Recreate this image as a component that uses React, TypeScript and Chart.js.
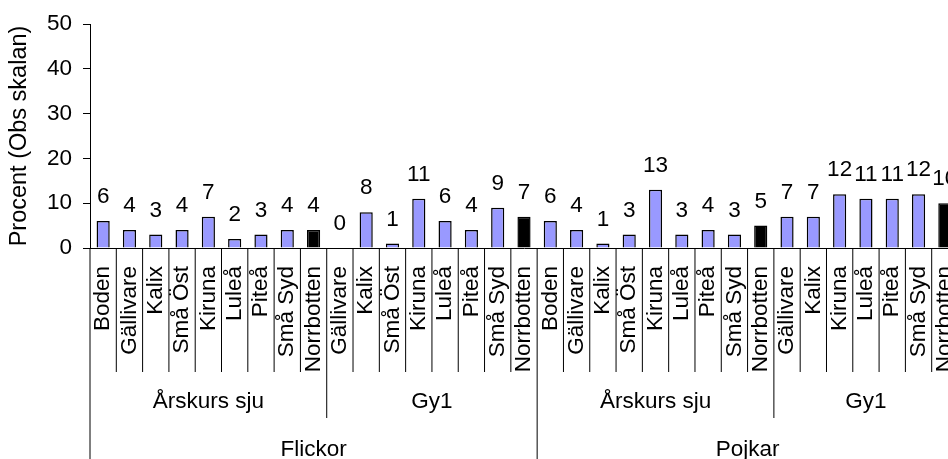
import React, { useEffect, useRef } from 'react';
import { Chart, registerables } from 'chart.js';

Chart.register(...registerables);

// ---- Data ----
const citiesFlickorAk7 = ['Boden', 'Gällivare', 'Kalix', 'Små Öst', 'Kiruna', 'Luleå', 'Piteå', 'Små Syd', 'Norrbotten'];
const citiesFlickorGy1 = ['Gällivare', 'Kalix', 'Små Öst', 'Kiruna', 'Luleå', 'Piteå', 'Små Syd', 'Norrbotten'];
const citiesPojkarAk7 = ['Boden', 'Gällivare', 'Kalix', 'Små Öst', 'Kiruna', 'Luleå', 'Piteå', 'Små Syd', 'Norrbotten'];
const citiesPojkarGy1 = ['Gällivare', 'Kalix', 'Kiruna', 'Luleå', 'Piteå', 'Små Syd', 'Norrbotten'];

const flickorAk7 = [6, 4, 3, 4, 7, 2, 3, 4, 4];
const flickorGy1 = [0, 8, 1, 11, 6, 4, 9, 7];
const pojkarAk7 = [6, 4, 1, 3, 13, 3, 4, 3, 5];
const pojkarGy1 = [7, 7, 12, 11, 11, 12, 10];

const schoolLevels = ['Årskurs sju', 'Gy1'];
const genders = ['Flickor', 'Pojkar'];
const totalLabel = 'Norrbotten';
const yTicks = [0, 10, 20, 30, 40, 50];
const yTitle = 'Procent (Obs skalan)';

// ---- Derived tables ----
const subGroups = [
  { gender: genders[0], level: schoolLevels[0], cities: citiesFlickorAk7, values: flickorAk7 },
  { gender: genders[0], level: schoolLevels[1], cities: citiesFlickorGy1, values: flickorGy1 },
  { gender: genders[1], level: schoolLevels[0], cities: citiesPojkarAk7, values: pojkarAk7 },
  { gender: genders[1], level: schoolLevels[1], cities: citiesPojkarGy1, values: pojkarGy1 },
];
const labels: string[] = subGroups.flatMap((g) => g.cities);
const values: number[] = subGroups.flatMap((g) => g.values);

const level2: { label: string; start: number; count: number }[] = [];
const level3: { label: string; start: number; count: number }[] = [];
{
  let idx = 0;
  subGroups.forEach((g) => {
    level2.push({ label: g.level, start: idx, count: g.cities.length });
    const last = level3[level3.length - 1];
    if (last && last.label === g.gender) last.count += g.cities.length;
    else level3.push({ label: g.gender, start: idx, count: g.cities.length });
    idx += g.cities.length;
  });
}

const FONT = '"Liberation Sans", Arial, sans-serif';
const FS = 22.5;

const valueLabelPlugin = {
  id: 'valueLabels',
  afterDatasetsDraw(chart: any) {
    const ctx = chart.ctx;
    const meta = chart.getDatasetMeta(0);
    ctx.save();
    ctx.font = `${FS}px ${FONT}`;
    ctx.fillStyle = '#000';
    ctx.textAlign = 'center';
    ctx.textBaseline = 'alphabetic';
    meta.data.forEach((el: any, i: number) => {
      ctx.fillText(String(values[i]), el.x, el.y - 18);
    });
    ctx.restore();
  },
};

const hierarchyPlugin = {
  id: 'hierarchy',
  afterDraw(chart: any) {
    const ctx = chart.ctx;
    const xs = chart.scales.x;
    const area = chart.chartArea;
    const base = area.bottom;
    const bottom = chart.height;
    const px = (k: number) => xs.getPixelForValue(k - 0.5);
    const l2Bounds = new Set<number>();
    const l3Bounds = new Set<number>();
    level2.forEach((g) => { l2Bounds.add(g.start); l2Bounds.add(g.start + g.count); });
    level3.forEach((g) => { l3Bounds.add(g.start); l3Bounds.add(g.start + g.count); });

    ctx.save();
    ctx.strokeStyle = '#000';
    ctx.lineWidth = 1;
    for (let k = 0; k <= labels.length; k++) {
      let end = base + 124;
      if (l3Bounds.has(k)) end = bottom;
      else if (l2Bounds.has(k)) end = base + 170;
      const x = px(k);
      ctx.beginPath();
      ctx.moveTo(x, base);
      ctx.lineTo(x, end);
      ctx.stroke();
    }
    ctx.font = `${FS}px ${FONT}`;
    ctx.fillStyle = '#000';
    ctx.textAlign = 'center';
    ctx.textBaseline = 'middle';
    level2.forEach((g) => {
      const cx = (px(g.start) + px(g.start + g.count)) / 2;
      ctx.fillText(g.label, cx, base + 154);
    });
    level3.forEach((g) => {
      const cx = (px(g.start) + px(g.start + g.count)) / 2;
      ctx.fillText(g.label, cx, base + 202);
    });
    ctx.restore();
  },
};

export default function App() {
  const ref = useRef<HTMLCanvasElement>(null);

  useEffect(() => {
    if (!ref.current) return;
    const chart = new Chart(ref.current, {
      type: 'bar',
      data: {
        labels,
        datasets: [
          {
            data: values,
            backgroundColor: labels.map((l) => (l === totalLabel ? '#000000' : '#9999FF')),
            borderColor: '#000000',
            borderWidth: 1.5,
            barPercentage: 0.5,
            categoryPercentage: 1,
          },
        ],
      },
      options: {
        responsive: false,
        animation: false,
        devicePixelRatio: 1,
        layout: { padding: { top: 24, right: 2, bottom: 0, left: 0 } },
        plugins: {
          legend: { display: false },
          tooltip: { enabled: false },
        },
        scales: {
          x: {
            type: 'category',
            grid: { display: false, drawTicks: false },
            border: { display: true, color: '#000', width: 1 },
            ticks: {
              autoSkip: false,
              minRotation: 90,
              maxRotation: 90,
              padding: 18,
              color: '#000',
              font: { family: FONT, size: FS },
            },
            afterFit: (s: any) => {
              s.height = 211;
              s.paddingLeft = 0;
              s.paddingRight = 0;
            },
          },
          y: {
            min: yTicks[0],
            max: yTicks[yTicks.length - 1],
            afterBuildTicks: (s: any) => {
              s.ticks = yTicks.map((v) => ({ value: v }));
            },
            ticks: {
              padding: 11,
              color: '#000',
              font: { family: FONT, size: FS },
            },
            grid: { display: true, drawOnChartArea: false, drawTicks: true, tickLength: 7, color: '#000' },
            border: { display: true, color: '#000', width: 1 },
            title: {
              display: true,
              text: yTitle,
              color: '#000',
              font: { family: FONT, size: 23.5 },
              padding: { top: 5, bottom: 0 },
            },
            afterFit: (s: any) => {
              s.width = 90;
              s.paddingTop = 0;
              s.paddingBottom = 0;
            },
          },
        },
      } as any,
      plugins: [valueLabelPlugin, hierarchyPlugin],
    });
    return () => chart.destroy();
  }, []);

  return (
    <div
      style={{
        position: 'fixed',
        left: 0,
        top: 0,
        width: 948,
        height: 459,
        overflow: 'hidden',
        background: '#fff',
      }}
    >
      <canvas ref={ref} width={960} height={459} style={{ display: 'block', width: 960, height: 459 }} />
    </div>
  );
}
